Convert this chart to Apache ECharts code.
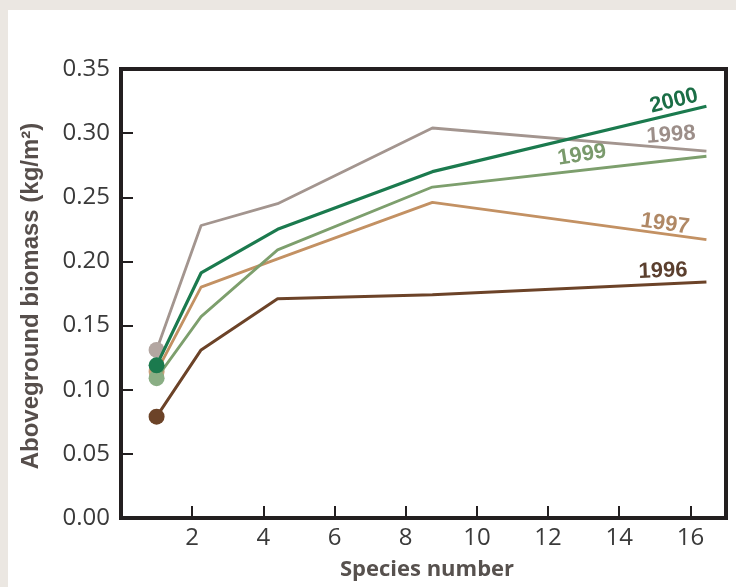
<!DOCTYPE html>
<html>
<head>
<meta charset="utf-8">
<script src="https://cdn.jsdelivr.net/npm/echarts@6/dist/echarts.min.js"></script>
<style>
  html, body { margin:0; padding:0; background:#ebe7e2; }
  #panel { position:absolute; left:8px; top:10px; right:0; bottom:0; background:#ffffff; }
  #main { position:absolute; left:0; top:0; width:736px; height:587px; }
</style>
</head>
<body>
<div id="panel"></div>
<div id="main"></div>
<script>
// Species number (x) at each vertex
const speciesNumber = [1, 2.25, 4.4, 8.75, 16.45];
// Aboveground biomass (kg/m2) per year
const biomass1996 = [0.079, 0.131, 0.171, 0.174, 0.184];
const biomass1997 = [0.114, 0.180, 0.202, 0.246, 0.217];
const biomass1998 = [0.131, 0.228, 0.245, 0.304, 0.286];
const biomass1999 = [0.109, 0.157, 0.209, 0.258, 0.282];
const biomass2000 = [0.119, 0.191, 0.225, 0.270, 0.321];
const years = ['1996', '1997', '1998', '1999', '2000'];
const yTickLabels = ['0.00','0.05','0.10','0.15','0.20','0.25','0.30','0.35'];
const xTickLabels = ['2','4','6','8','10','12','14','16'];

const seriesValues = [biomass1996, biomass1997, biomass1998, biomass1999, biomass2000];
const colors = ['#6c4328', '#c39163', '#a3958f', '#7d9f6d', '#1b7a4e'];
const markerColors = ['#6c4328', '#c9a07a', '#b3a6a1', '#8aae84', '#1b7a4e'];
const labelColors = ['#5b3f2e', '#b08865', '#9c8e89', '#7a9a6c', '#1b6e46'];
const widths = [3, 2.8, 2.8, 2.8, 3.2];

const chart = echarts.init(document.getElementById('main'), null, {renderer:'canvas'});

const series = years.map((yr, s) => ({
  name: yr,
  type: 'line',
  z: 2 + s,
  data: speciesNumber.map((x, i) => ({
    value: [x, seriesValues[s][i]],
    symbol: i === 0 ? 'circle' : 'none',
    symbolSize: i === 0 ? 16 : 0,
    itemStyle: { color: markerColors[s], borderWidth: 0 }
  })),
  lineStyle: { color: colors[s], width: widths[s] },
  itemStyle: { color: markerColors[s] },
  showSymbol: true,
  animation: false,
  silent: true
}));

const axisColor = '#231f20';
const labelFont = { fontFamily: 'Open Sans', fontSize: 24, color: '#3a3a3a' };
const yearFont = 'bold 22px "Liberation Sans", Arial, sans-serif';

const option = {
  animation: false,
  grid: { left: 121, top: 69, width: 605, height: 449, show: true, borderColor: axisColor, borderWidth: 4, backgroundColor: 'transparent' },
  xAxis: {
    type: 'value', min: 0, max: 17, interval: 2,
    axisLine: { show: true, lineStyle: { color: axisColor, width: 4 } },
    axisTick: { show: true, inside: true, length: 12, lineStyle: { color: axisColor, width: 2 } },
    splitLine: { show: false },
    axisLabel: Object.assign({ margin: 8, formatter: v => { const s = String(v); return xTickLabels.indexOf(s) >= 0 ? s : ''; } }, labelFont)
  },
  yAxis: {
    type: 'value', min: 0, max: 0.35, interval: 0.05,
    axisLine: { show: true, lineStyle: { color: axisColor, width: 4 } },
    axisTick: { show: true, inside: true, length: 12, lineStyle: { color: axisColor, width: 2 } },
    splitLine: { show: false },
    axisLabel: Object.assign({ margin: 11, formatter: v => yTickLabels[Math.round(v / 0.05)] || '' }, labelFont)
  },
  series: series,
  graphic: [
    { type: 'text', x: 31, y: 296, rotation: Math.PI / 2,
      style: { text: 'Aboveground biomass (kg/m²)', x: 0, y: 0, align: 'center', verticalAlign: 'middle',
               font: 'bold 24px "Liberation Sans", Arial, sans-serif', fill: '#564e4b' } },
    { type: 'text', x: 427, y: 570,
      style: { text: 'Species number', x: 0, y: 0, align: 'center', verticalAlign: 'middle',
               font: 'bold 22px "Open Sans", sans-serif', fill: '#57514e' } },
    { type: 'text', x: 674, y: 101, rotation: 14 * Math.PI / 180,
      style: { text: years[4], x: 0, y: 0, align: 'center', verticalAlign: 'middle', font: yearFont, fill: labelColors[4] } },
    { type: 'text', x: 671, y: 135, rotation: 4 * Math.PI / 180,
      style: { text: years[2], x: 0, y: 0, align: 'center', verticalAlign: 'middle', font: yearFont, fill: labelColors[2] } },
    { type: 'text', x: 582, y: 155, rotation: 9 * Math.PI / 180,
      style: { text: years[3], x: 0, y: 0, align: 'center', verticalAlign: 'middle', font: yearFont, fill: labelColors[3] } },
    { type: 'text', x: 665, y: 224, rotation: -8 * Math.PI / 180,
      style: { text: years[1], x: 0, y: 0, align: 'center', verticalAlign: 'middle', font: yearFont, fill: labelColors[1] } },
    { type: 'text', x: 663, y: 271, rotation: 2 * Math.PI / 180,
      style: { text: years[0], x: 0, y: 0, align: 'center', verticalAlign: 'middle', font: yearFont, fill: labelColors[0] } }
  ]
};
chart.setOption(option);
</script>
</body>
</html>
